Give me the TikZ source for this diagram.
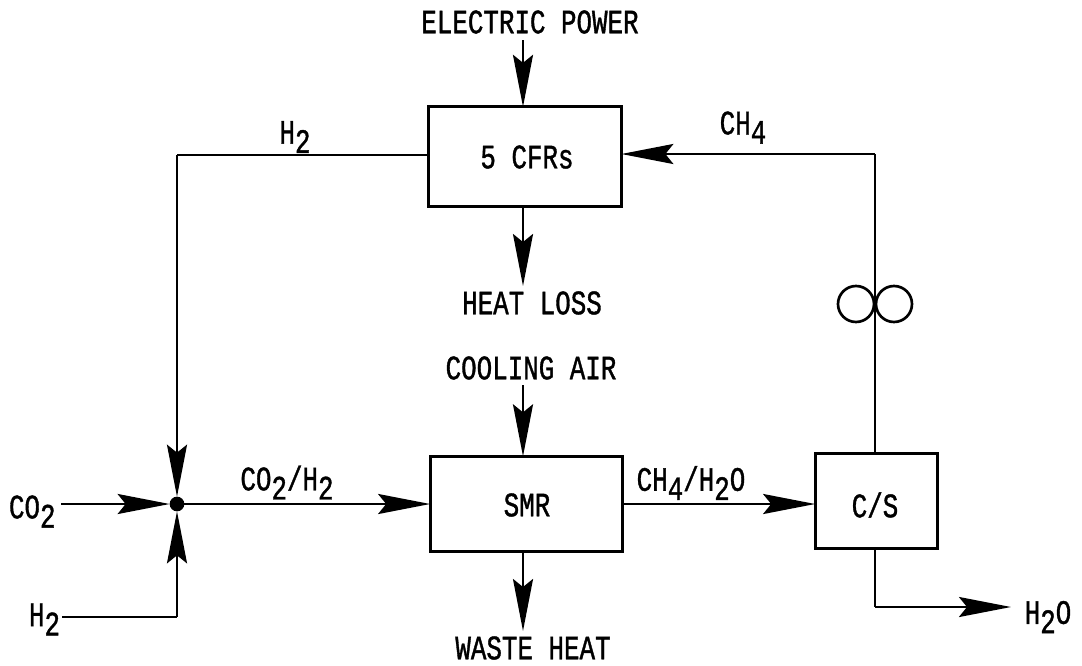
\documentclass[tikz,border=0pt]{standalone}
\usepackage{graphicx}
\usepackage{fontspec}
\setmainfont{Liberation Mono}[FakeBold=1.3]
\usetikzlibrary{arrows.meta}
\newcommand{\lbx}[1]{\scalebox{1}[1.32]{#1}}
\newcommand{\sbs}[1]{\raisebox{-0.27em}{#1}}
\tikzset{
  blk/.style={draw=black,line width=2.2pt,fill=white,outer sep=0pt,inner sep=0pt,minimum width=#1},
  txt/.style={inner sep=0pt,outer sep=0pt,text=black,font=\fontsize{19.4pt}{22pt}\selectfont},
  flow/.style={draw=black,line width=2pt,-{Stealth[length=39pt,width=15pt,inset=6pt]}},
  plain/.style={draw=black,line width=2pt},
  pump/.style={circle,draw=black,line width=2pt,minimum size=27pt,inner sep=0pt,outer sep=0pt},
  dotn/.style={circle,fill=black,minimum size=11pt,inner sep=0pt,outer sep=0pt}
}
\begin{document}
\begin{tikzpicture}[x=0.75pt,y=-0.75pt]
\useasboundingbox[fill=white] (0,0) rectangle (1082,665);
% blocks
\node[blk=144.5pt,minimum height=74.5pt] (cfr) at (525,156.5) {};
\node[blk=144.5pt,minimum height=71.5pt] (smr) at (526.5,504) {};
\node[blk=92pt,minimum height=71.5pt] (cs) at (876.5,501) {};
\node[dotn] (j) at (177,504) {};
\node[pump] (p1) at (856,304) {};
\node[pump] (p2) at (894,304) {};
% labels
\node[txt] (lep) at (530,22) {\lbx{ELECTRIC POWER}};
\node[txt] (lhl) at (532,303) {\lbx{HEAT LOSS}};
\node[txt] (lca) at (531,368) {\lbx{COOLING AIR}};
\node[txt] (lwh) at (533,648) {\lbx{WASTE HEAT}};
\node[txt] (lcf) at (527,157) {\lbx{5 CFRs}};
\node[txt] (lsm) at (527,505) {\lbx{SMR}};
\node[txt] (lcs) at (875,505) {\lbx{C/S}};
\node[txt] (lh1) at (295,137) {\lbx{H\sbs{2}}};
\node[txt] (lch) at (743,127.5) {\lbx{CH\sbs{4}}};
\node[txt,anchor=west] (lco) at (9,511.5) {\lbx{CO\sbs{2}}};
\node[txt,anchor=west] (lh2) at (29,619.5) {\lbx{H\sbs{2}}};
\node[txt] (lmx) at (287,482.5) {\lbx{CO\sbs{2}/H\sbs{2}}};
\node[txt] (lmh) at (691,483) {\lbx{CH\sbs{4}/H\sbs{2}O}};
\node[txt] (lwo) at (1048,617) {\lbx{H\sbs{2}O}};
% free ends and corners
\coordinate (ein) at (523,40);
\coordinate (hout) at (523,286);
\coordinate (cin) at (523,385);
\coordinate (wout) at (523,631);
\coordinate (tl) at (177,155);
\coordinate (co) at (61,504);
\coordinate (hl) at (62,617);
\coordinate (hc) at (177,617);
\coordinate (tr) at (875,154);
\coordinate (bl) at (875,607);
\coordinate (wo) at (1011,607);
% connectors
\draw[flow] (ein) -- (ein |- cfr.north);
\draw[flow] (hout |- cfr.south) -- (hout);
\draw[flow] (cin) -- (cin |- smr.north);
\draw[flow] (wout |- smr.south) -- (wout);
\draw[plain] (tl -| cfr.west) -- (tl);
\draw[flow] (tl) -- (j);
\draw[flow] (co) -- (j);
\draw[plain] (hl) -- (hc);
\draw[flow] (hc) -- (j);
\draw[flow] (j) -- (j -| smr.west);
\draw[flow] (smr.east) -- (smr.east -| cs.west);
\draw[plain] (tr |- cs.north) -- (tr);
\draw[flow] (tr) -- (tr -| cfr.east);
\draw[plain] (bl |- cs.south) -- (bl);
\draw[flow] (bl) -- (wo);
\end{tikzpicture}
\end{document}
